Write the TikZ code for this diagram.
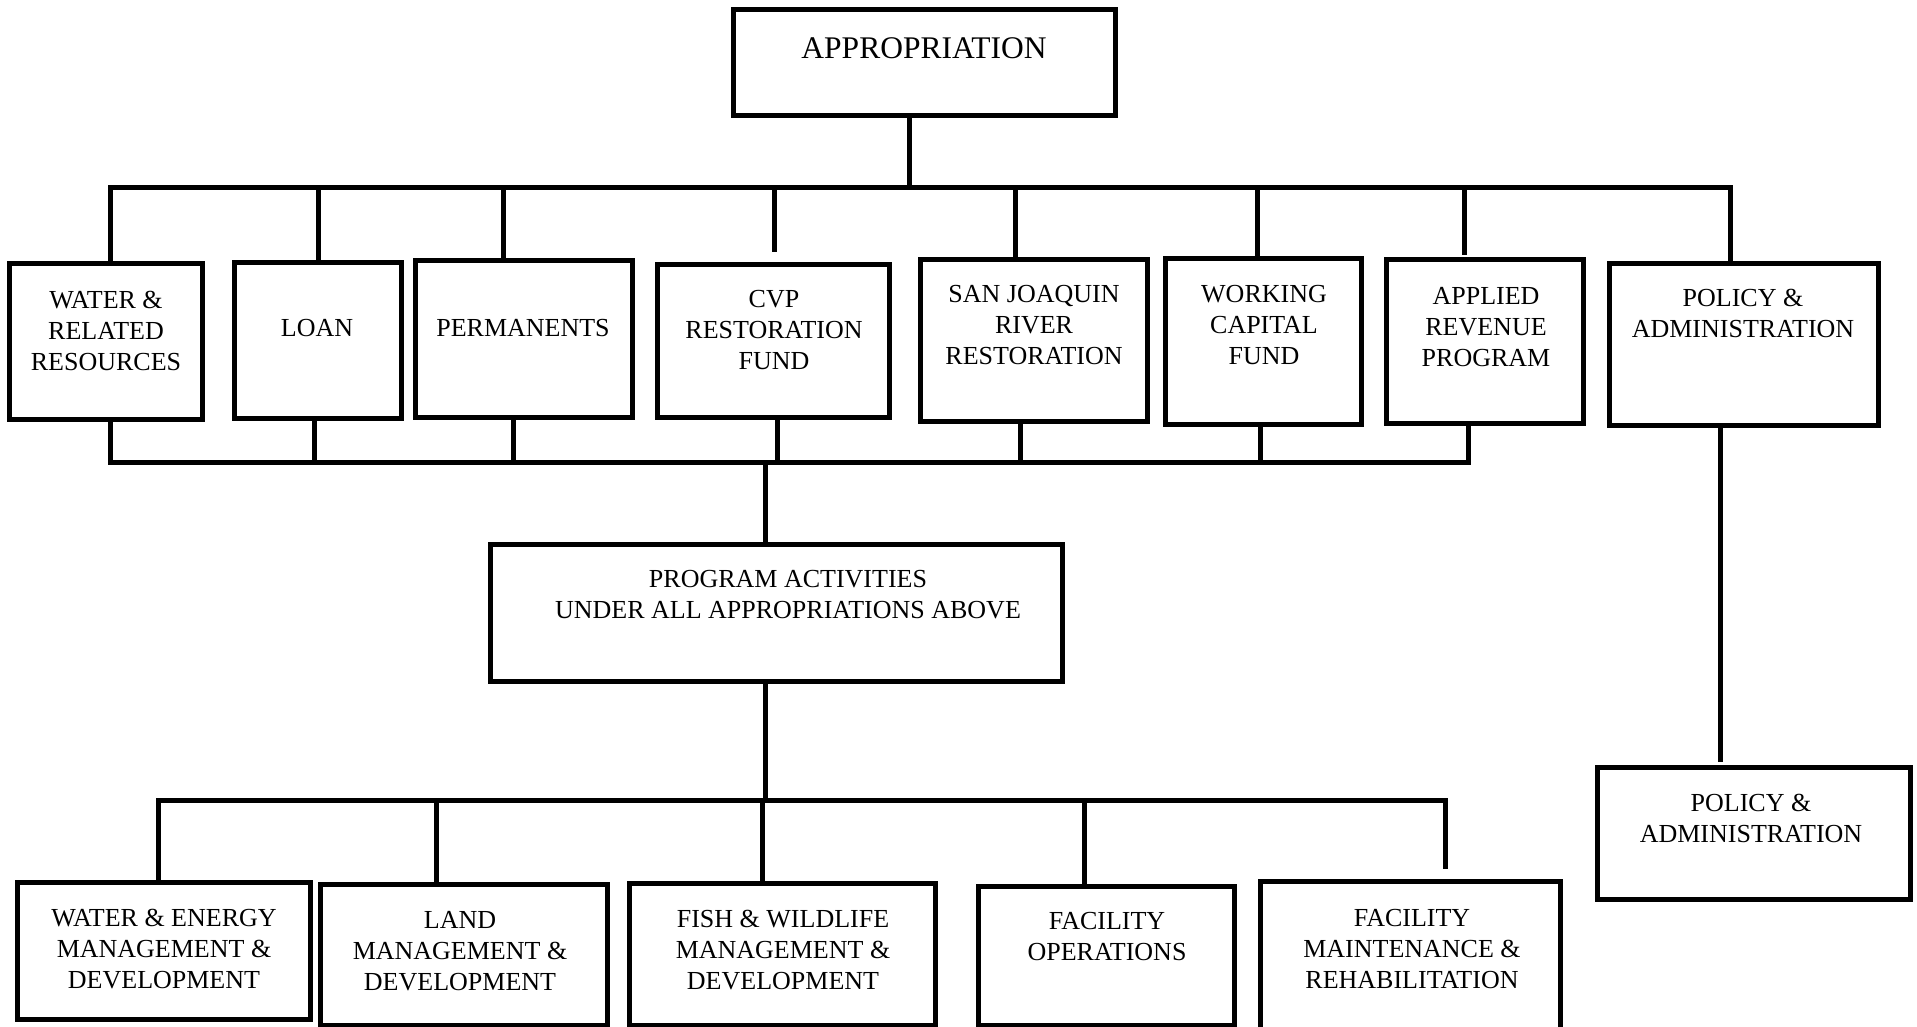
\documentclass[tikz,border=0pt]{standalone}
\usepackage{fontspec}
\setmainfont{Liberation Serif}
\begin{document}
\begin{tikzpicture}[x=1pt,y=1pt,
  box/.style={draw, line width=5pt, inner sep=0pt},
  lbl/.style={align=center, inner sep=0pt, font=\fontsize{26}{31}\selectfont},
  ttl/.style={align=center, inner sep=0pt, font=\fontsize{31.5}{36}\selectfont},
  conn/.style={line width=5pt}]
\clip (0,0) rectangle (1917,-1027);
\fill[white] (0,0) rectangle (1917,-1027);
% boxes
\node[box, minimum width=382, minimum height=106] (appr) at (924,-63) {};
\node[box, minimum width=193, minimum height=156] (water) at (105.5,-341) {};
\node[box, minimum width=167, minimum height=156] (loan) at (317.5,-340) {};
\node[box, minimum width=217, minimum height=157] (perm) at (523.5,-338.5) {};
\node[box, minimum width=232, minimum height=153] (cvp) at (773,-340.5) {};
\node[box, minimum width=227, minimum height=162] (sanj) at (1033.5,-340) {};
\node[box, minimum width=196, minimum height=166] (work) at (1263,-341) {};
\node[box, minimum width=197, minimum height=164] (appl) at (1484.5,-341) {};
\node[box, minimum width=269, minimum height=162] (polA) at (1743.5,-344) {};
\node[box, minimum width=572, minimum height=137] (pa) at (776,-612.5) {};
\node[box, minimum width=293, minimum height=137] (we) at (163.5,-950.5) {};
\node[box, minimum width=287, minimum height=141] (land) at (463.5,-954.5) {};
\node[box, minimum width=306, minimum height=142] (fish) at (782,-954) {};
\node[box, minimum width=256, minimum height=139] (fops) at (1106,-955.5) {};
\node[box, minimum width=300, minimum height=179] (fm) at (1410,-970.5) {};
\node[box, minimum width=313, minimum height=132] (polB) at (1753.5,-833) {};
% texts
\node[ttl] (tappr) at (924,-48) {APPROPRIATION};
\node[lbl] (twater) at (106,-331) {WATER \&\\RELATED\\RESOURCES};
\node[lbl] (tloan) at (317,-328) {LOAN};
\node[lbl] (tperm) at (523,-328) {PERMANENTS};
\node[lbl] (tcvp) at (774,-330) {CVP\\RESTORATION\\FUND};
\node[lbl] (tsanj) at (1034,-325) {SAN JOAQUIN\\RIVER\\RESTORATION};
\node[lbl] (twork) at (1264,-325) {WORKING\\CAPITAL\\FUND};
\node[lbl] (tappl) at (1486,-327) {APPLIED\\REVENUE\\PROGRAM};
\node[lbl] (tpolA) at (1743,-313) {POLICY \&\\ADMINISTRATION};
\node[lbl] (tpa) at (788,-595) {PROGRAM ACTIVITIES\\UNDER ALL APPROPRIATIONS ABOVE};
\node[lbl] (twe) at (164,-949) {WATER \& ENERGY\\MANAGEMENT \&\\DEVELOPMENT};
\node[lbl] (tland) at (460,-951) {LAND\\MANAGEMENT \&\\DEVELOPMENT};
\node[lbl] (tfish) at (783,-950) {FISH \& WILDLIFE\\MANAGEMENT \&\\DEVELOPMENT};
\node[lbl] (tfops) at (1107,-937) {FACILITY\\OPERATIONS};
\node[lbl] (tfm) at (1412,-949) {FACILITY\\MAINTENANCE \&\\REHABILITATION};
\node[lbl] (tpolB) at (1751,-818.5) {POLICY \&\\ADMINISTRATION};
% upper bus coordinates
\coordinate (s0) at (909,-188);
\coordinate (d1) at (110,-188);
\coordinate (d2) at (318,-188);
\coordinate (d3) at (503,-188);
\coordinate (d4) at (774,-188);
\coordinate (d5) at (1015,-188);
\coordinate (d6) at (1257,-188);
\coordinate (d7) at (1464,-188);
\coordinate (d8) at (1730,-188);
% lower bus coordinates
\coordinate (r1) at (110,-462);
\coordinate (r2) at (314,-462);
\coordinate (r3) at (513,-462);
\coordinate (r4) at (777,-462);
\coordinate (r5) at (1020,-462);
\coordinate (r6) at (1260,-462);
\coordinate (r7) at (1468,-462);
\coordinate (s1) at (765,-462);
% program bus coordinates
\coordinate (s2) at (765,-800);
\coordinate (e1) at (158,-800);
\coordinate (e2) at (436,-800);
\coordinate (e3) at (762,-800);
\coordinate (e4) at (1084,-800);
\coordinate (e5) at (1445,-800);
% policy stem
\coordinate (p1) at (1720,-425);
% connectors
\draw[conn] (appr.south -| s0) -- (s0);
\draw[conn] (d1 |- water.north) -- (d1) -- (d8) -- (d8 |- polA.north);
\draw[conn] (d2) -- (d2 |- loan.north);
\draw[conn] (d3) -- (d3 |- perm.north);
\draw[conn] (d4) -- ++(0,-64);
\draw[conn] (d5) -- (d5 |- sanj.north);
\draw[conn] (d6) -- (d6 |- work.north);
\draw[conn] (d7) -- ++(0,-67);
\draw[conn] (r1 |- water.south) -- (r1) -- (r7) -- (r7 |- appl.south);
\draw[conn] (r2 |- loan.south) -- (r2);
\draw[conn] (r3 |- perm.south) -- (r3);
\draw[conn] (r4 |- cvp.south) -- (r4);
\draw[conn] (r5 |- sanj.south) -- (r5);
\draw[conn] (r6 |- work.south) -- (r6);
\draw[conn] (s1) -- (s1 |- pa.north);
\draw[conn] (pa.south -| s2) -- (s2);
\draw[conn] (e1 |- we.north) -- (e1) -- (e5) -- ++(0,-69);
\draw[conn] (e2) -- (e2 |- land.north);
\draw[conn] (e3) -- (e3 |- fish.north);
\draw[conn] (e4) -- (e4 |- fops.north);
\draw[conn] (p1 |- polA.south) -- ++(0,-334);
\end{tikzpicture}
\end{document}
